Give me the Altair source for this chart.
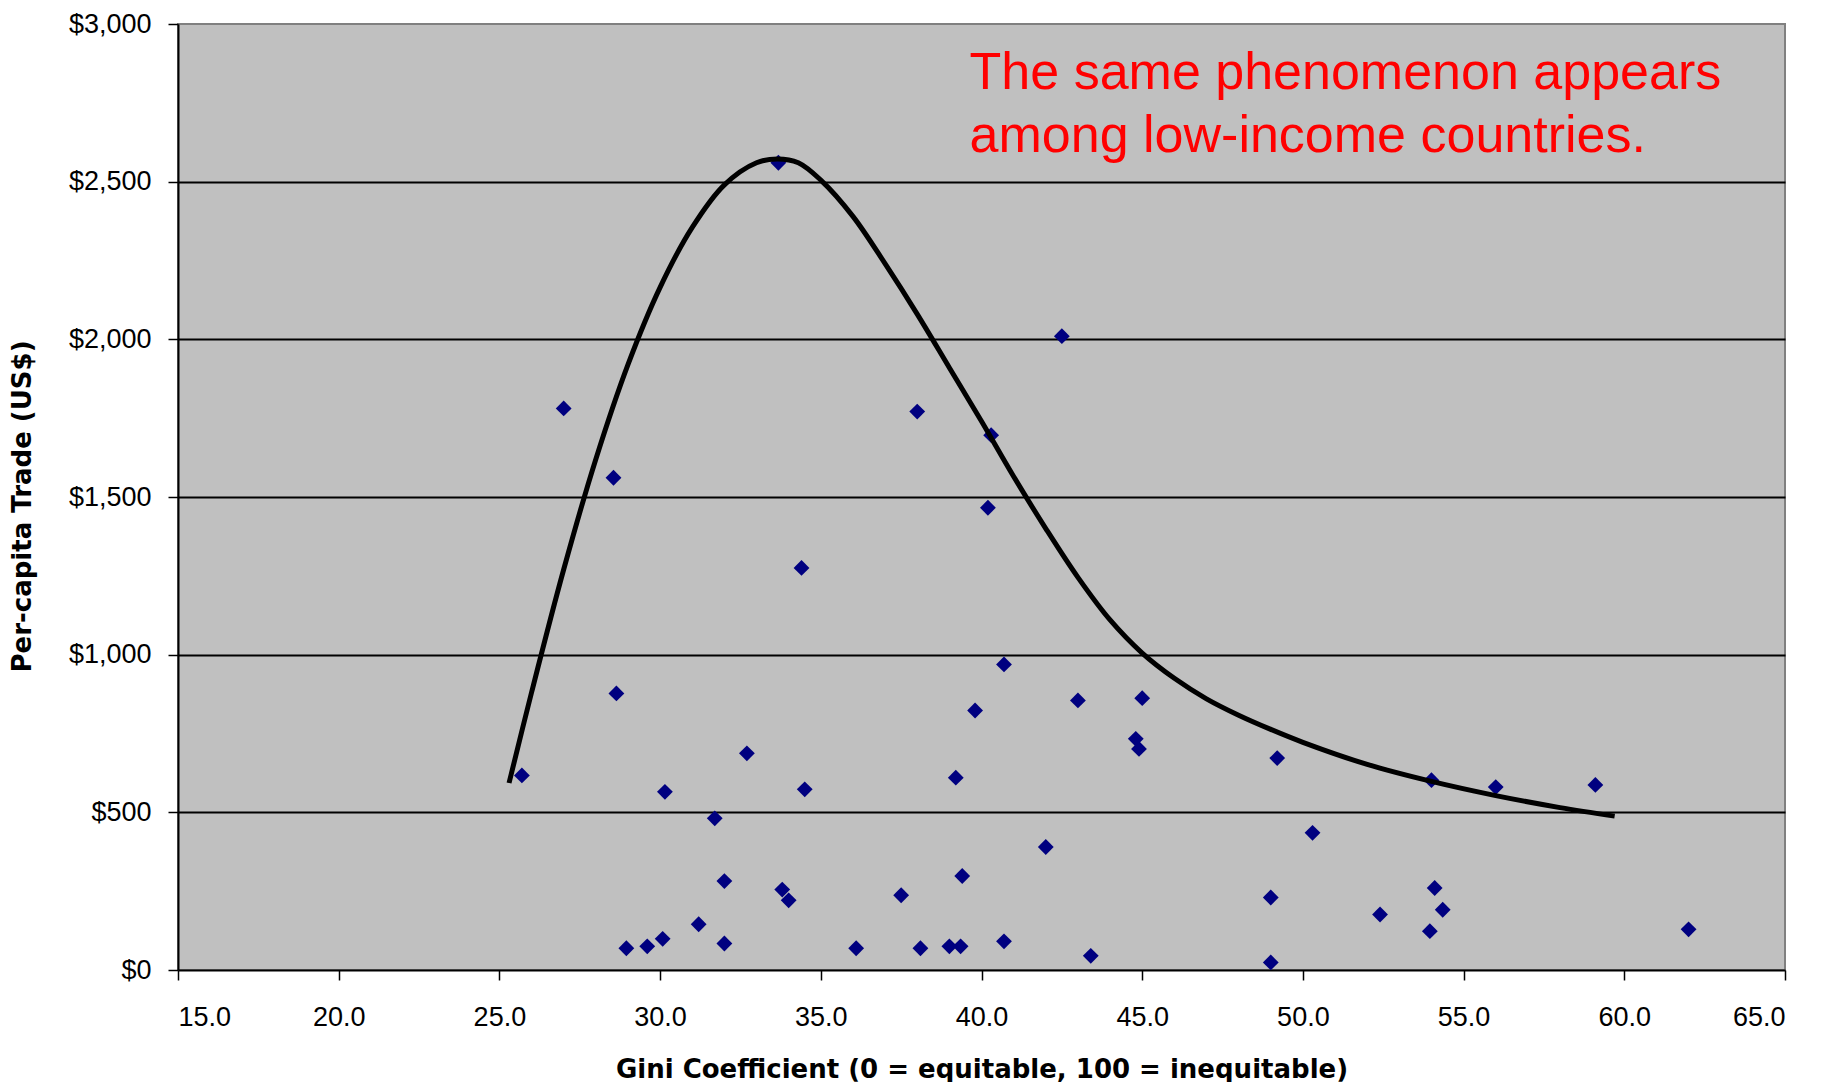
import altair as alt
import pandas as pd

# Scatter data: Gini coefficient vs per-capita trade (US$)
gini = [25.7, 27.0, 28.55, 28.64, 28.95, 29.6, 30.08, 30.15, 31.2, 31.7,
        32.0, 32.0, 32.7, 33.68, 33.8, 34.0, 34.4, 34.5, 36.1, 37.5,
        38.0, 38.1, 39.0, 39.2, 39.35, 39.4, 39.8, 40.2, 40.3, 40.7,
        40.7, 42.0, 42.5, 43.0, 43.4, 44.8, 44.9, 45.0, 49.0, 49.0,
        49.2, 50.3, 52.4, 53.95, 54.0, 54.1, 54.35, 56.0, 59.1, 62.0]
trade = [617, 1781, 1561, 877, 69, 75, 99, 565, 145, 481,
         282, 84, 687, 2560, 255, 221, 1275, 573, 69, 237,
         1771, 69, 75, 610, 75, 298, 823, 1466, 1696, 969,
         91, 390, 2010, 855, 45, 733, 701, 862, 230, 24,
         672, 435, 176, 123, 602, 260, 191, 580, 587, 129]

# Fitted curve, values
curve_x = [25.3, 26.0, 27.0, 28.0, 29.0, 30.0, 31.0, 32.0, 33.0, 33.65,
           34.3, 35.0, 36.0, 37.0, 38.0, 39.0, 40.0, 41.0, 42.0, 43.0,
           44.0, 45.0, 46.0, 47.0, 48.0, 49.0, 50.0, 52.0, 54.0, 56.0,
           58.0, 59.7]
curve_y = [593, 880, 1270, 1620, 1920, 2165, 2355, 2490, 2560, 2572,
           2560, 2505, 2390, 2240, 2080, 1910, 1740, 1565, 1400, 1245,
           1110, 1005, 925, 860, 808, 763, 722, 652, 598, 553,
           515, 488]

note_lines = ["The same phenomenon appears", "among low-income countries."]
note_x = [39.63, 39.63]
note_y = [2793, 2595]

x_ticks = [15, 20, 25, 30, 35, 40, 45, 50, 55, 60, 65]
y_ticks = [0, 500, 1000, 1500, 2000, 2500, 3000]

pts = pd.DataFrame({"gini": gini, "trade": trade})
crv = pd.DataFrame({"x": curve_x, "y": curve_y, "order": list(range(len(curve_x)))})
note = pd.DataFrame({"x": note_x, "y": note_y, "t": note_lines})

xs = alt.Scale(domain=[15, 65], nice=False, zero=False)
ys = alt.Scale(domain=[0, 3000], nice=False, zero=False)

x_axis = alt.Axis(
    values=x_ticks, format=".1f", grid=False,
    domainColor="black", domainWidth=2,
    tickColor="black", tickWidth=1.5, tickSize=10,
    labelFont="Liberation Sans", labelFontSize=27, labelColor="black",
    labelPadding=24,
    title="Gini Coefficient (0 = equitable, 100 = inequitable)",
    titleFont="DejaVu Sans", titleFontSize=26, titleFontWeight="bold",
    titleColor="black", titleBaseline="alphabetic", titleY=107,
)
y_axis = alt.Axis(
    values=y_ticks, format="$,.0f",
    grid=True, gridColor="black", gridWidth=2,
    gridOpacity={"condition": {"test": "datum.value === 3000 || datum.value === 0", "value": 0}, "value": 1},
    domainColor="black", domainWidth=2,
    tickColor="black", tickWidth=1.5, tickSize=10,
    labelFont="Liberation Sans", labelFontSize=27, labelColor="black",
    labelPadding=17,
    title="Per-capita Trade (US$)",
    titleFont="DejaVu Sans", titleFontSize=26, titleFontWeight="bold",
    titleColor="black", titleAngle=270, titleBaseline="alphabetic",
    titleAlign="center", titleX=-148, titleY=482,
)

points = alt.Chart(pts).mark_point(
    shape="diamond", filled=True, color="#000080", size=250, opacity=1
).encode(
    x=alt.X("gini:Q", scale=xs, axis=x_axis),
    y=alt.Y("trade:Q", scale=ys, axis=y_axis),
)

curve = alt.Chart(crv).mark_line(
    color="black", strokeWidth=5, interpolate="catmull-rom"
).encode(
    x=alt.X("x:Q", scale=xs),
    y=alt.Y("y:Q", scale=ys),
    order="order:Q",
)

text = alt.Chart(note).mark_text(
    align="left", baseline="alphabetic", font="Liberation Sans",
    fontSize=52, color="#FF0000"
).encode(
    x=alt.X("x:Q", scale=xs),
    y=alt.Y("y:Q", scale=ys),
    text="t:N",
)

chart = alt.layer(points, curve, text).properties(
    width=1607, height=946,
    autosize=alt.AutoSizeParams(type="none"),
    padding={"left": 170, "top": 16, "right": 30, "bottom": 112},
    background="white",
).configure_view(
    fill="#C0C0C0", stroke="#808080", strokeWidth=2
)

chart.save("out.html", embed_options={"renderer": "svg", "actions": False})
